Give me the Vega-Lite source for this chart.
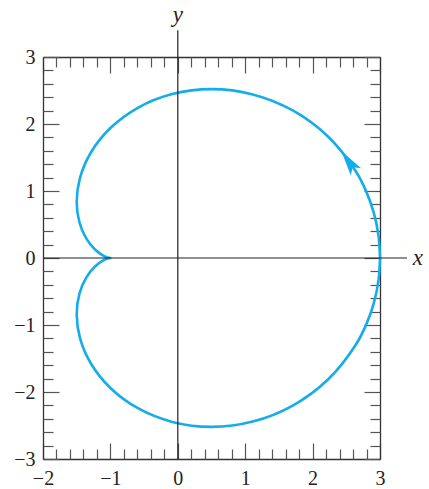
{
  "$schema": "https://vega.github.io/schema/vega-lite/v6.json",
  "width": 337,
  "height": 402,
  "autosize": {"type": "none"},
  "padding": {"left": 43, "top": 57, "right": 49, "bottom": 30},
  "background": "white",
  "config": {
    "view": {"stroke": null},
    "axis": {
      "domainColor": "#333333",
      "domainWidth": 1.3,
      "tickColor": "#555555",
      "tickWidth": 1.2,
      "labelFont": "Liberation Serif",
      "labelFontSize": 20,
      "labelColor": "#222222",
      "labelFlush": false,
      "labelOverlap": false,
      "grid": false,
      "title": null
    }
  },
  "datasets": {
    "curve": [
      {"i": 0, "x": 3.0, "y": 0.0},
      {"i": 1, "x": 2.9772, "y": 0.3376},
      {"i": 2, "x": 2.9093, "y": 0.6686},
      {"i": 3, "x": 2.7979, "y": 0.9871},
      {"i": 4, "x": 2.6454, "y": 1.287},
      {"i": 5, "x": 2.2321, "y": 1.81},
      {"i": 6, "x": 1.7057, "y": 2.2023},
      {"i": 7, "x": 1.112, "y": 2.4414},
      {"i": 8, "x": 0.5, "y": 2.5201},
      {"i": 9, "x": -0.082, "y": 2.4465},
      {"i": 10, "x": -0.5924, "y": 2.2423},
      {"i": 11, "x": -1.0, "y": 1.94},
      {"i": 12, "x": -1.287, "y": 1.5788},
      {"i": 13, "x": -1.45, "y": 1.1995},
      {"i": 14, "x": -1.5, "y": 0.84},
      {"i": 15, "x": -1.4592, "y": 0.5308},
      {"i": 16, "x": -1.3584, "y": 0.2918},
      {"i": 17, "x": -1.2321, "y": 0.13},
      {"i": 18, "x": -1.1134, "y": 0.04},
      {"i": 19, "x": -1.0299, "y": 0.005},
      {"i": 20, "x": -1.0, "y": 0.0},
      {"i": 21, "x": -1.0299, "y": -0.005},
      {"i": 22, "x": -1.1134, "y": -0.04},
      {"i": 23, "x": -1.2321, "y": -0.13},
      {"i": 24, "x": -1.3584, "y": -0.2918},
      {"i": 25, "x": -1.4592, "y": -0.5308},
      {"i": 26, "x": -1.5, "y": -0.84},
      {"i": 27, "x": -1.45, "y": -1.1995},
      {"i": 28, "x": -1.287, "y": -1.5788},
      {"i": 29, "x": -1.0, "y": -1.94},
      {"i": 30, "x": -0.5924, "y": -2.2423},
      {"i": 31, "x": -0.082, "y": -2.4465},
      {"i": 32, "x": 0.5, "y": -2.5201},
      {"i": 33, "x": 1.112, "y": -2.4414},
      {"i": 34, "x": 1.7057, "y": -2.2023},
      {"i": 35, "x": 2.2321, "y": -1.81},
      {"i": 36, "x": 2.6454, "y": -1.287},
      {"i": 37, "x": 2.7979, "y": -0.9871},
      {"i": 38, "x": 2.9093, "y": -0.6686},
      {"i": 39, "x": 2.9772, "y": -0.3376},
      {"i": 40, "x": 3.0, "y": 0.0}
    ],
    "arrow": [{"x": 2.535, "y": 1.44, "angle": 325}],
    "vaxis": [{"x": 0, "y1": -3, "y2": 3.4}],
    "haxis": [{"y": 0, "x1": -2, "x2": 3.4}],
    "names": [
      {"x": 3.56, "y": 0, "name": "x"},
      {"x": 0, "y": 3.62, "name": "y"}
    ]
  },
  "resolve": {"axis": {"x": "independent", "y": "independent"}},
  "layer": [
    {
      "data": {"name": "curve"},
      "mark": {"type": "line", "color": "#14adea", "strokeWidth": 2.6, "interpolate": "catmull-rom"},
      "encoding": {
        "x": {"field": "x", "type": "quantitative", "scale": {"domain": [-2, 3], "nice": false, "zero": false},
          "axis": {"orient": "bottom", "values": [-2, -1, 0, 1, 2, 3], "tickSize": -16, "labelPadding": 25,
            "labelExpr": "datum.value < 0 ? '−' + abs(datum.value) : '' + datum.value"}},
        "y": {"field": "y", "type": "quantitative", "scale": {"domain": [-3, 3], "nice": false, "zero": false},
          "axis": {"orient": "left", "values": [-3, -2, -1, 0, 1, 2, 3], "tickSize": -16, "labelPadding": 24,
            "labelExpr": "datum.value < 0 ? '−' + abs(datum.value) : '' + datum.value"}},
        "order": {"field": "i", "type": "quantitative"}
      }
    },
    {
      "data": {"name": "arrow"},
      "mark": {"type": "point", "filled": true, "opacity": 1, "color": "#14adea",
        "shape": "M0,-1L0.5,1L0,0.55L-0.5,1Z", "size": 650},
      "encoding": {
        "x": {"field": "x", "type": "quantitative",
          "axis": {"orient": "bottom", "values": [-1.8, -1.6, -1.4, -1.2, -0.8, -0.6, -0.4, -0.2, 0.2, 0.4, 0.6, 0.8, 1.2, 1.4, 1.6, 1.8, 2.2, 2.4, 2.6, 2.8],
            "tickSize": -10, "labels": false, "domain": false}},
        "y": {"field": "y", "type": "quantitative",
          "axis": {"orient": "left", "values": [-2.8, -2.6, -2.4, -2.2, -1.8, -1.6, -1.4, -1.2, -0.8, -0.6, -0.4, -0.2, 0.2, 0.4, 0.6, 0.8, 1.2, 1.4, 1.6, 1.8, 2.2, 2.4, 2.6, 2.8],
            "tickSize": -10, "labels": false, "domain": false}},
        "angle": {"field": "angle", "type": "quantitative", "scale": null}
      }
    },
    {
      "data": {"name": "vaxis"},
      "mark": {"type": "rule", "color": "#222222", "strokeWidth": 1.2},
      "encoding": {
        "x": {"field": "x", "type": "quantitative",
          "axis": {"orient": "top", "values": [-2, -1, 0, 1, 2, 3], "tickSize": -16, "labels": false}},
        "y": {"field": "y1", "type": "quantitative",
          "axis": {"orient": "right", "values": [-3, -2, -1, 0, 1, 2, 3], "tickSize": -16, "labels": false}},
        "y2": {"field": "y2"}
      }
    },
    {
      "data": {"name": "haxis"},
      "mark": {"type": "rule", "color": "#222222", "strokeWidth": 1.2},
      "encoding": {
        "y": {"field": "y", "type": "quantitative",
          "axis": {"orient": "right", "values": [-2.8, -2.6, -2.4, -2.2, -1.8, -1.6, -1.4, -1.2, -0.8, -0.6, -0.4, -0.2, 0.2, 0.4, 0.6, 0.8, 1.2, 1.4, 1.6, 1.8, 2.2, 2.4, 2.6, 2.8],
            "tickSize": -10, "labels": false, "domain": false}},
        "x": {"field": "x1", "type": "quantitative",
          "axis": {"orient": "top", "values": [-1.8, -1.6, -1.4, -1.2, -0.8, -0.6, -0.4, -0.2, 0.2, 0.4, 0.6, 0.8, 1.2, 1.4, 1.6, 1.8, 2.2, 2.4, 2.6, 2.8],
            "tickSize": -10, "labels": false, "domain": false}},
        "x2": {"field": "x2"}
      }
    },
    {
      "data": {"name": "names"},
      "mark": {"type": "text", "font": "Liberation Serif", "fontStyle": "italic", "fontSize": 23, "color": "#222222", "baseline": "middle", "align": "center"},
      "encoding": {
        "x": {"field": "x", "type": "quantitative", "axis": null},
        "y": {"field": "y", "type": "quantitative", "axis": null},
        "text": {"field": "name"}
      }
    }
  ]
}
